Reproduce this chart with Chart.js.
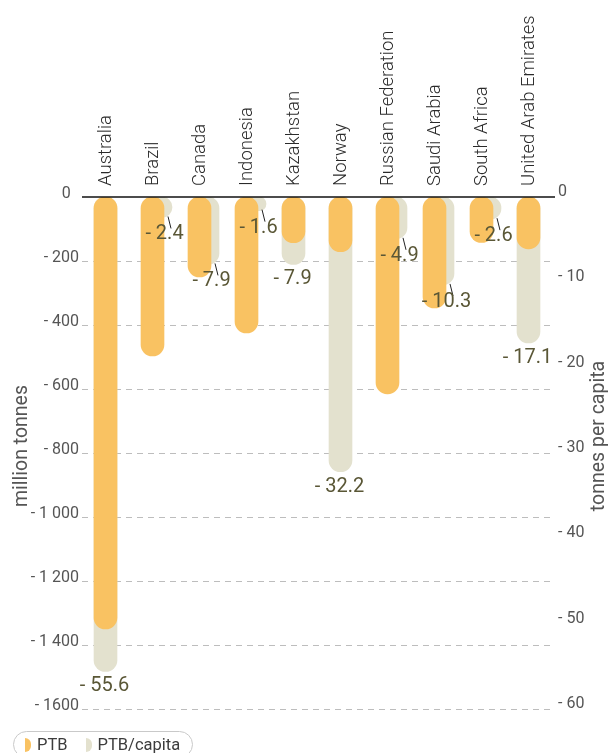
<!DOCTYPE html>
<html>
<head>
<meta charset="utf-8">
<script src="https://cdn.jsdelivr.net/npm/chart.js@4.4.1/dist/chart.umd.min.js"></script>
<style>
    html, body { margin: 0; padding: 0; background: #fff; overflow: hidden; }
    #wrap { position: relative; width: 609px; height: 753px; }
    #legend {
        position: absolute; left: 13px; top: 731px; height: 27px;
        box-sizing: border-box; border: 1px solid #c9c9c9; border-radius: 14px;
        padding: 0 12px 0 11px; display: flex; align-items: center;
        font: 16.5px Roboto, sans-serif; color: #3c3c3c;
    }
    .key { display: inline-block; width: 6px; height: 14px; border-radius: 0 7px 7px 0; margin-right: 6px; }
</style>
</head>
<body>
<div id="wrap">
    <canvas id="ptbChart" width="609" height="753"></canvas>
    <div id="legend">
        <span class="key" style="background:#f9c262"></span>PTB
        <span class="key" style="background:#e3e1ce;margin-left:18px"></span>PTB/capita
    </div>
</div>
<script>
// ===================================
// PTB vs PTB per capita
// ===================================

const countries = ['Australia', 'Brazil', 'Canada', 'Indonesia', 'Kazakhstan', 'Norway',
    'Russian Federation', 'Saudi Arabia', 'South Africa', 'United Arab Emirates'];

// million tonnes
const ptbValues = [-1350, -497, -250, -425, -143, -171, -615, -347, -142, -162];

// tonnes per capita
const perCapitaValues = [-55.6, -2.4, -7.9, -1.6, -7.9, -32.2, -4.9, -10.3, -2.6, -17.1];

const leftTickLabels = ['0\u2002', '- 200', '- 400', '- 600', '- 800', '- 1 000', '- 1 200', '- 1 400', '- 1600'];
const rightTickLabels = ['0', '- 10', '- 20', '- 30', '- 40', '- 50', '- 60'];

const ORANGE = '#f9c262';
const BEIGE = '#e3e1ce';
const FONT = 'Roboto, "Noto Sans", sans-serif';

// Draw grid, zero line, value labels and axis titles
const decorPlugin = {
    id: 'decor',
    afterDatasetsUpdate(chart) {
        // per-capita bar sits a bit to the right when it is the shorter one
        const ptbMeta = chart.getDatasetMeta(0);
        const capMeta = chart.getDatasetMeta(1);
        capMeta.data.forEach((bar, i) => {
            const front = ptbMeta.data[i];
            bar.$shifted = bar.y < front.y;
            if (bar.$shifted) bar.x += 8;
        });
    },
    beforeDatasetsDraw(chart) {
        const ctx = chart.ctx;
        const area = chart.chartArea;
        const yScale = chart.scales.y;
        ctx.save();
        ctx.strokeStyle = '#bdbdbd';
        ctx.lineWidth = 1;
        ctx.setLineDash([6, 5]);
        for (let v = -200; v >= -1600; v -= 200) {
            const py = Math.round(yScale.getPixelForValue(v)) + 0.5;
            ctx.beginPath();
            ctx.moveTo(area.left, py);
            ctx.lineTo(area.right + 3, py);
            ctx.stroke();
        }
        ctx.restore();
    },
    afterDatasetsDraw(chart) {
        const ctx = chart.ctx;
        const area = chart.chartArea;
        const yScale = chart.scales.y;

        // zero line
        ctx.save();
        const zy = yScale.getPixelForValue(0);
        ctx.strokeStyle = '#111';
        ctx.lineWidth = 1.5;
        ctx.beginPath();
        ctx.moveTo(area.left, zy);
        ctx.lineTo(area.right + 3, zy);
        ctx.stroke();

        // per capita labels
        const capMeta = chart.getDatasetMeta(1);
        ctx.font = '20px ' + FONT;
        ctx.fillStyle = '#5a5736';
        ctx.textAlign = 'center';
        ctx.textBaseline = 'middle';
        ctx.strokeStyle = '#222';
        ctx.lineWidth = 1;
        capMeta.data.forEach((bar, i) => {
            const text = '- ' + Math.abs(perCapitaValues[i]).toFixed(1);
            if (bar.$shifted) {
                ctx.beginPath();
                ctx.moveTo(bar.x + 7.5, bar.y - 1);
                ctx.lineTo(bar.x + 10.5, bar.y + 11);
                ctx.stroke();
                ctx.fillText(text, bar.x + 4, bar.y + 17);
            } else {
                ctx.fillText(text, bar.x - 1, bar.y + 15);
            }
        });

        // axis titles
        ctx.font = '19.5px ' + FONT;
        ctx.fillStyle = '#555';
        const midY = 446;
        ctx.translate(22, midY);
        ctx.rotate(-Math.PI / 2);
        ctx.fillText('million tonnes', 0, 0);
        ctx.setTransform(1, 0, 0, 1, 0, 0);
        ctx.translate(599, midY - 10);
        ctx.rotate(-Math.PI / 2);
        ctx.fillText('tonnes per capita', 0, 0);
        ctx.restore();
    }
};

new Chart(document.getElementById('ptbChart'), {
    type: 'bar',
    data: {
        labels: countries,
        datasets: [
            {
                label: 'PTB',
                data: ptbValues,
                backgroundColor: ORANGE,
                yAxisID: 'y',
                grouped: false,
                barThickness: 23,
                borderRadius: 12,
                borderSkipped: false
            },
            {
                label: 'PTB/capita',
                data: perCapitaValues,
                backgroundColor: BEIGE,
                yAxisID: 'y1',
                grouped: false,
                barThickness: 23,
                borderRadius: 12,
                borderSkipped: false
            }
        ]
    },
    options: {
        responsive: false,
        animation: false,
        devicePixelRatio: 1,
        layout: { padding: { top: 0, bottom: 44, left: 0, right: 0 } },
        plugins: {
            legend: { display: false },
            tooltip: { enabled: false }
        },
        scales: {
            x: {
                position: 'top',
                grid: { display: false, drawTicks: false },
                border: { display: false },
                ticks: {
                    autoSkip: false,
                    minRotation: 90,
                    maxRotation: 90,
                    padding: 11,
                    labelOffset: 23,
                    color: '#2a2a2a',
                    font: { family: FONT, size: 18.5, weight: '300' }
                },
                afterFit: scale => { scale.height = 197; }
            },
            y: {
                position: 'left',
                min: -1600,
                max: 0,
                grid: { display: false, drawTicks: false },
                border: { display: false },
                ticks: {
                    stepSize: 200,
                    padding: 3,
                    labelOffset: -3,
                    color: '#555',
                    font: { family: FONT, size: 16 },
                    callback: value => leftTickLabels[Math.round(-value / 200)]
                },
                afterFit: scale => { scale.width = 82; }
            },
            y1: {
                position: 'right',
                min: -60,
                max: 0,
                grid: { display: false, drawTicks: false },
                border: { display: false },
                ticks: {
                    stepSize: 10,
                    padding: 6,
                    labelOffset: -5,
                    color: '#555',
                    font: { family: FONT, size: 16 },
                    callback: value => rightTickLabels[Math.round(-value / 10)]
                },
                afterFit: scale => { scale.width = 57; }
            }
        }
    },
    plugins: [decorPlugin]
});
</script>
</body>
</html>
